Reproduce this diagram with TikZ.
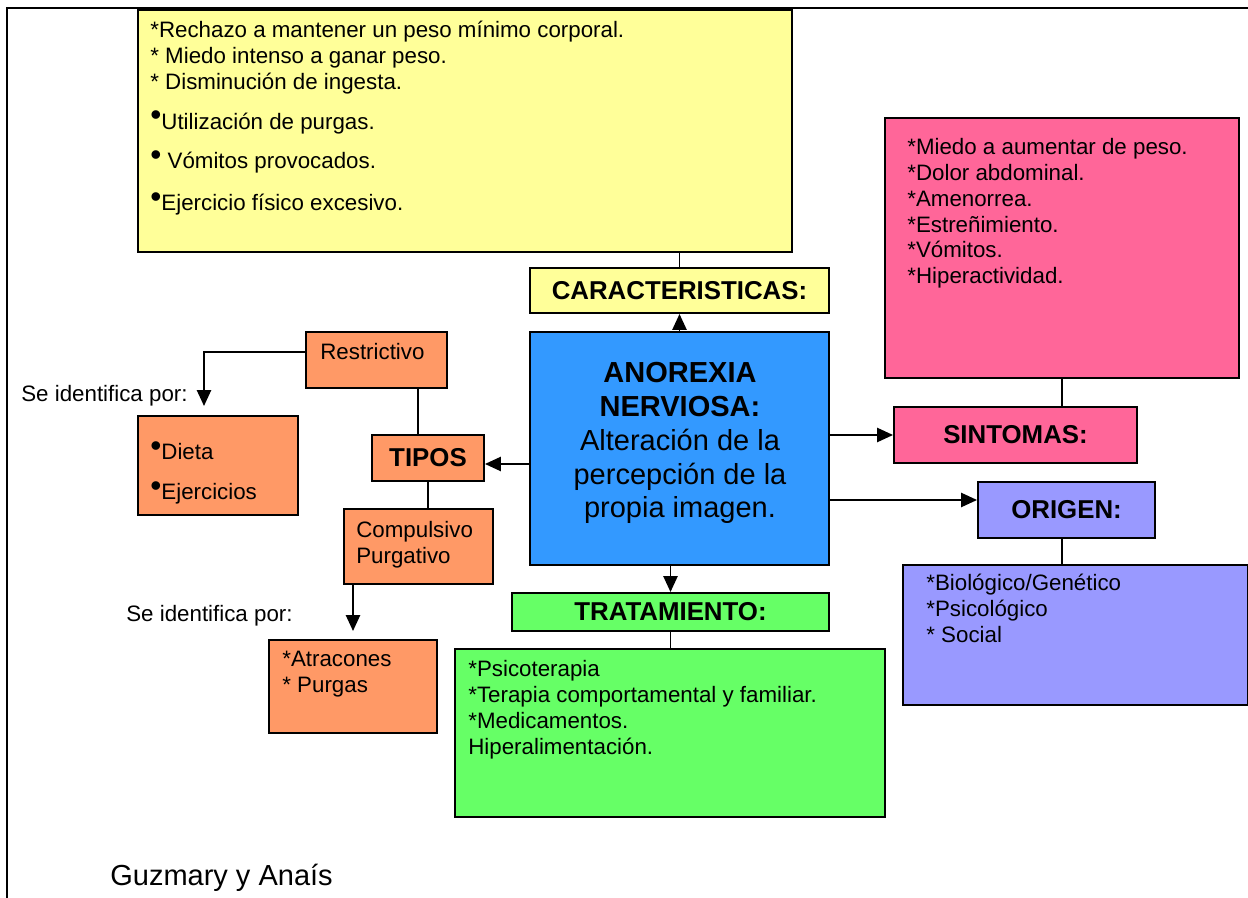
\documentclass[tikz,border=0pt]{standalone}
\usepackage{fontspec}
\setmainfont{Liberation Sans}
\usetikzlibrary{arrows.meta,fit}

\definecolor{amarillo}{HTML}{FFFF99}
\definecolor{azul}{HTML}{3399FF}
\definecolor{rosa}{HTML}{FF6699}
\definecolor{lila}{HTML}{9999FF}
\definecolor{verde}{HTML}{66FF66}
\definecolor{naranja}{HTML}{FF9966}

\newcommand{\punto}{\smash{\raisebox{1.8pt}{\fontsize{18}{18}\selectfont\textbullet}}}

\begin{document}
\begin{tikzpicture}[x=0.2mm, y=-0.2mm,
    caja/.style={draw=black, line width=1.1pt, inner sep=0pt},
    titulo/.style={caja, font=\fontsize{14.7}{17}\selectfont\bfseries},
    texto/.style={anchor=north west, inner sep=0pt, align=left, font=\fontsize{12.7}{14.7}\selectfont},
    linea/.style={line width=1.1pt},
    flecha/.style={linea, -{Triangle[length=9pt,width=8pt]}}]
    
    % marco
    \useasboundingbox (0,0) rectangle (1248,898);
    \draw[line width=0.9pt] (7,898) -- (7,8) -- (1248,8);
    
    % listas
    \node[caja, fill=amarillo, fit={(138,10) (792,252)}] (caracList) {};
    \node[texto] (caracTxt) at (150,21) {*Rechazo a mantener un peso mínimo corporal.\\{*} Miedo intenso a ganar peso.\\{*} Disminución de ingesta.\\[7.9pt]\punto Utilización de purgas.\\[7.9pt]\punto\ Vómitos provocados.\\[9pt]\punto Ejercicio físico excesivo.};
    \node[caja, fill=rosa, fit={(885,118) (1239,378)}] (sintList) {};
    \node[texto] (sintTxt) at (907,138) {*Miedo a aumentar de peso.\\{*}Dolor abdominal.\\{*}Amenorrea.\\{*}Estreñimiento.\\{*}Vómitos.\\{*}Hiperactividad.};
    \node[caja, fill=lila, fit={(903,565) (1248,705)}] (origList) {};
    \node[texto] (origTxt) at (926,574) {*Biológico/Genético\\{*}Psicológico\\{*} Social};
    \node[caja, fill=verde, fit={(455,649) (885,817)}] (tratList) {};
    \node[texto] (tratTxt) at (468,660) {*Psicoterapia\\{*}Terapia comportamental y familiar.\\{*}Medicamentos.\\Hiperalimentación.};
    
    % tipos
    \node[caja, fill=naranja, fit={(306,332) (447,388)}] (restr) {};
    \node[texto] (restrTxt) at (320,343) {Restrictivo};
    \node[caja, fill=naranja, fit={(344,509) (493,584)}] (compuls) {};
    \node[texto] (compulsTxt) at (356,521) {Compulsivo\\Purgativo};
    \node[caja, fill=naranja, fit={(138,416) (298,515)}] (dietaList) {};
    \node[texto] (dietaTxt) at (150,443) {\punto Dieta\\[7.9pt]\punto Ejercicios};
    \node[caja, fill=naranja, fit={(269,640) (437,733)}] (atracList) {};
    \node[texto] (atracTxt) at (282,651) {*Atracones\\{*} Purgas};
    
    % titulos
    \node[titulo, fill=amarillo, minimum width=59.8mm, minimum height=9mm] (caract) at (679.5,290.5) {CARACTERISTICAS:};
    \node[caja, fill=azul, fit={(530,332) (829,565)}] (central) {};
    \node[align=center, inner sep=0pt, font=\fontsize{16.5}{19.3}\selectfont] (centralTxt) at (680,443) {\textbf{ANOREXIA}\\\textbf{NERVIOSA:}\\Alteración de la\\percepción de la\\propia imagen.};
    \node[titulo, fill=rosa, minimum width=48.6mm, minimum height=11.2mm] (sintomas) at (1015.5,435) {SINTOMAS:};
    \node[titulo, fill=lila, minimum width=35.4mm, minimum height=11.2mm] (origen) at (1066.5,510) {ORIGEN:};
    \node[titulo, fill=verde, minimum width=63.4mm, minimum height=7.6mm] (trat) at (670.5,612) {TRATAMIENTO:};
    \node[titulo, fill=naranja, minimum width=22.4mm, minimum height=9.2mm] (tipos) at (428,458) {TIPOS};
    
    % conectores
    \draw[linea] (caracList.south -| caract) -- (caract.north);
    \draw[flecha] (central) -- (caract);
    \draw[linea] (sintList.south) -- (sintList.south |- sintomas.north);
    \draw[flecha] (central.east |- sintomas) -- (sintomas.west);
    \draw[flecha] (central.east |- 0,500) -- (origen.west |- 0,500);
    \draw[linea] (origen.south -| 1062,0) -- (origList.north -| 1062,0);
    \draw[flecha] (central.south -| trat) -- (trat.north);
    \draw[linea] (trat.south) -- (trat.south |- tratList.north);
    \draw[flecha] (central.west |- 0,464) -- (tipos.east |- 0,464);
    \draw[linea] (restr.south -| 418,0) -- (tipos.north -| 418,0);
    \draw[linea] (tipos.south) -- (tipos.south |- compuls.north);
    \coordinate (restrFin) at (204,406);
    \draw[flecha] (restr.west |- 0,352) -| (restrFin);
    \coordinate (compulsFin) at (353,631);
    \draw[flecha] (compuls.south -| compulsFin) -- (compulsFin);
    
    % rotulos
    \node[anchor=west, inner sep=0pt, font=\fontsize{12.7}{14.7}\selectfont] (identA) at (21,396) {Se identifica por:};
    \node[anchor=west, inner sep=0pt, font=\fontsize{12.7}{14.7}\selectfont] (identB) at (126,616) {Se identifica por:};
    \node[anchor=west, inner sep=0pt, font=\fontsize{16.5}{19}\selectfont] (firma) at (110,878) {Guzmary y Anaís};
    
\end{tikzpicture}
\end{document}
